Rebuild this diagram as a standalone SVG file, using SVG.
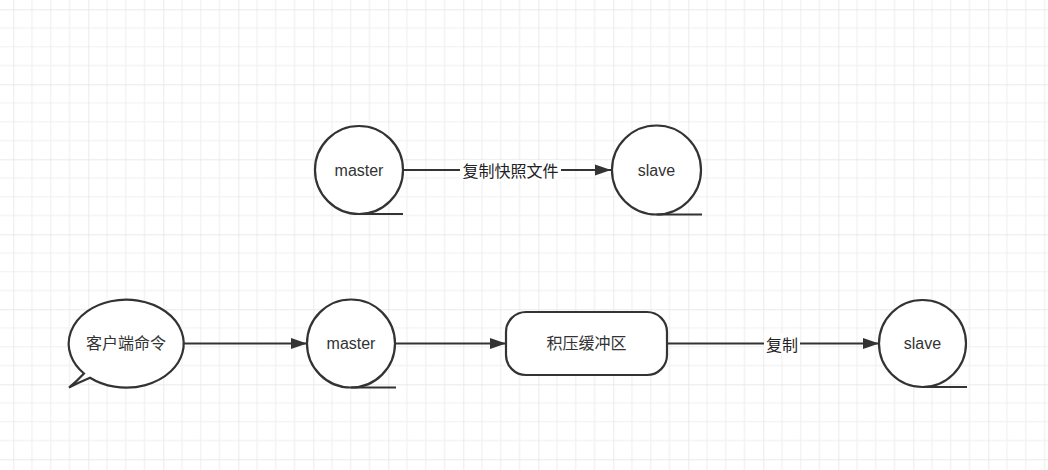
<svg xmlns="http://www.w3.org/2000/svg" width="1048" height="470" viewBox="0 0 1048 470">
  <defs>
    <pattern id="grid" patternUnits="userSpaceOnUse" x="13.3" y="9.3" width="75" height="75">
      <path d="M18.75 0V75M37.5 0V75M56.25 0V75M0 18.75H75M0 37.5H75M0 56.25H75" stroke="#f0f0f0" stroke-width="1.2" fill="none"/>
      <path d="M0 0V75M0 0H75" stroke="#e3e3e3" stroke-width="1.4" fill="none"/>
    </pattern>
    <marker id="arrow" markerUnits="userSpaceOnUse" markerWidth="18" markerHeight="14" refX="16" refY="6" orient="auto">
      <path d="M0 0.5L16 6L0 11.5Z" fill="#333333"/>
    </marker>
  </defs>
  <style>
    .shape { fill: #ffffff; stroke: #333333; stroke-width: 2.2; }
    .tail { fill: none; stroke: #333333; stroke-width: 2.2; }
    .edge { fill: none; stroke: #333333; stroke-width: 2.2; }
    .label { font-family: "Liberation Sans", "Noto Sans CJK SC", sans-serif; font-size: 16px; fill: #333333; text-anchor: middle; dominant-baseline: central; }
    .elabel { font-family: "Noto Sans CJK SC", "Liberation Sans", sans-serif; font-size: 16px; fill: #222222; text-anchor: middle; dominant-baseline: central; }
  </style>
  <rect width="1048" height="470" fill="#ffffff"/>
  <rect width="1048" height="470" fill="url(#grid)"/>

  <g id="connectors">
    <line class="edge" x1="404" y1="170" x2="611" y2="170" marker-end="url(#arrow)"/>
    <rect x="460" y="160" width="101" height="20" fill="#ffffff"/>
    <text class="elabel" x="510.5" y="170">复制快照文件</text>

    <line class="edge" x1="184" y1="343.5" x2="307" y2="343.5" marker-end="url(#arrow)"/>
    <line class="edge" x1="396" y1="343.5" x2="506" y2="343.5" marker-end="url(#arrow)"/>
    <line class="edge" x1="668" y1="343.5" x2="879" y2="343.5" marker-end="url(#arrow)"/>
    <rect x="764" y="333" width="36" height="20" fill="#ffffff"/>
    <text class="elabel" x="782" y="343.5">复制</text>
  </g>

  <g id="master-top">
    <circle class="shape" cx="359" cy="170" r="44"/>
    <path class="tail" d="M359 214H403"/>
    <text class="label" x="359" y="170">master</text>
  </g>

  <g id="slave-top">
    <circle class="shape" cx="656.5" cy="170" r="44.5"/>
    <path class="tail" d="M656.5 214.5H702"/>
    <text class="label" x="656.5" y="170">slave</text>
  </g>

  <g id="client-command">
    <path class="shape" d="M84 373.5 A57.5 44 0 1 1 90 377.8 Q79 382.5 69 387.5 Q77 381 84 373.5Z"/>
    <text class="label" x="126" y="343.5">客户端命令</text>
  </g>

  <g id="master-bottom">
    <circle class="shape" cx="351" cy="343.5" r="44"/>
    <path class="tail" d="M351 387.5H396"/>
    <text class="label" x="351" y="343.5">master</text>
  </g>

  <g id="backlog-buffer">
    <rect class="shape" x="506" y="312" width="161" height="63" rx="20" ry="20"/>
    <text class="label" x="586.5" y="343.5">积压缓冲区</text>
  </g>

  <g id="slave-bottom">
    <circle class="shape" cx="922.5" cy="343.5" r="43.5"/>
    <path class="tail" d="M922.5 387H967"/>
    <text class="label" x="922.5" y="343.5">slave</text>
  </g>
</svg>
